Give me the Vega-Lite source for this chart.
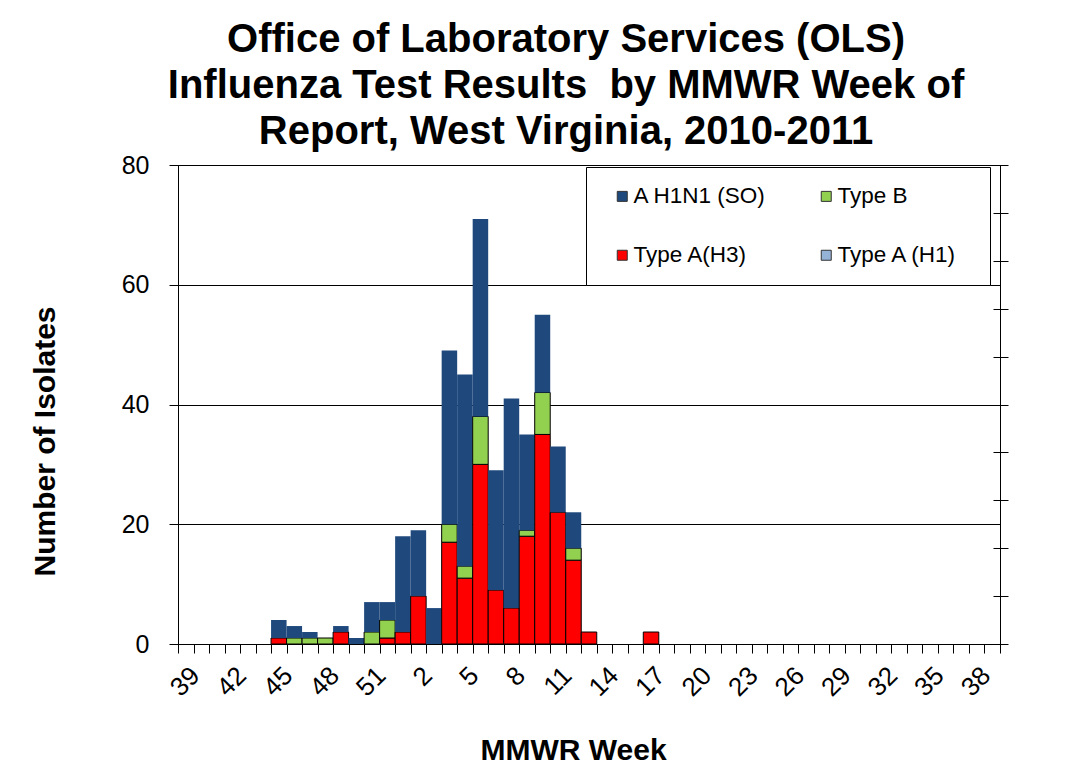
{
  "$schema": "https://vega.github.io/schema/vega-lite/v6.json",
  "width": 822,
  "height": 479,
  "autosize": {"type": "none"},
  "padding": {"left": 178, "top": 165, "right": 78, "bottom": 138},
  "background": "white",
  "config": {
    "view": {"stroke": "black", "strokeWidth": 1},
    "font": "Liberation Sans",
    "axis": {"labelColor": "black", "titleColor": "black", "tickColor": "black", "domainColor": "black", "labelFont": "Liberation Sans", "titleFont": "Liberation Sans"}
  },
  "title": {
    "text": ["Office of Laboratory Services (OLS)", "Influenza Test Results \u00a0by MMWR Week of", "Report, West Virginia, 2010-2011"],
    "font": "Liberation Sans",
    "fontSize": 40,
    "fontWeight": "bold",
    "color": "black",
    "anchor": "middle",
    "frame": "group",
    "dx": -23,
    "lineHeight": 46,
    "offset": 1
  },
  "data": {
    "values": [
      {"week": "2010-45", "type": "Type A(H3)", "n": 1},
      {"week": "2010-45", "type": "A H1N1 (SO)", "n": 3},
      {"week": "2010-46", "type": "Type B", "n": 1},
      {"week": "2010-46", "type": "A H1N1 (SO)", "n": 2},
      {"week": "2010-47", "type": "Type B", "n": 1},
      {"week": "2010-47", "type": "A H1N1 (SO)", "n": 1},
      {"week": "2010-48", "type": "Type B", "n": 1},
      {"week": "2010-49", "type": "Type A(H3)", "n": 2},
      {"week": "2010-49", "type": "A H1N1 (SO)", "n": 1},
      {"week": "2010-50", "type": "A H1N1 (SO)", "n": 1},
      {"week": "2010-51", "type": "Type B", "n": 2},
      {"week": "2010-51", "type": "A H1N1 (SO)", "n": 5},
      {"week": "2010-52", "type": "Type A(H3)", "n": 1},
      {"week": "2010-52", "type": "Type B", "n": 3},
      {"week": "2010-52", "type": "A H1N1 (SO)", "n": 3},
      {"week": "2011-01", "type": "Type A(H3)", "n": 2},
      {"week": "2011-01", "type": "A H1N1 (SO)", "n": 16},
      {"week": "2011-02", "type": "Type A(H3)", "n": 8},
      {"week": "2011-02", "type": "A H1N1 (SO)", "n": 11},
      {"week": "2011-03", "type": "A H1N1 (SO)", "n": 6},
      {"week": "2011-04", "type": "Type A(H3)", "n": 17},
      {"week": "2011-04", "type": "Type B", "n": 3},
      {"week": "2011-04", "type": "A H1N1 (SO)", "n": 29},
      {"week": "2011-05", "type": "Type A(H3)", "n": 11},
      {"week": "2011-05", "type": "Type B", "n": 2},
      {"week": "2011-05", "type": "A H1N1 (SO)", "n": 32},
      {"week": "2011-06", "type": "Type A(H3)", "n": 30},
      {"week": "2011-06", "type": "Type B", "n": 8},
      {"week": "2011-06", "type": "A H1N1 (SO)", "n": 33},
      {"week": "2011-07", "type": "Type A(H3)", "n": 9},
      {"week": "2011-07", "type": "A H1N1 (SO)", "n": 20},
      {"week": "2011-08", "type": "Type A(H3)", "n": 6},
      {"week": "2011-08", "type": "A H1N1 (SO)", "n": 35},
      {"week": "2011-09", "type": "Type A(H3)", "n": 18},
      {"week": "2011-09", "type": "Type B", "n": 1},
      {"week": "2011-09", "type": "A H1N1 (SO)", "n": 16},
      {"week": "2011-10", "type": "Type A(H3)", "n": 35},
      {"week": "2011-10", "type": "Type B", "n": 7},
      {"week": "2011-10", "type": "A H1N1 (SO)", "n": 13},
      {"week": "2011-11", "type": "Type A(H3)", "n": 22},
      {"week": "2011-11", "type": "A H1N1 (SO)", "n": 11},
      {"week": "2011-12", "type": "Type A(H3)", "n": 14},
      {"week": "2011-12", "type": "Type B", "n": 2},
      {"week": "2011-12", "type": "A H1N1 (SO)", "n": 6},
      {"week": "2011-13", "type": "Type A(H3)", "n": 2},
      {"week": "2011-17", "type": "Type A(H3)", "n": 2}
    ]
  },
  "transform": [
    {"calculate": "datum.type === 'Type A(H3)' ? 0 : (datum.type === 'Type B' ? 1 : 2)", "as": "stackOrder"}
  ],
  "encoding": {
    "x": {
      "field": "week",
      "type": "ordinal",
      "scale": {
        "domain": ["2010-39","2010-40","2010-41","2010-42","2010-43","2010-44","2010-45","2010-46","2010-47","2010-48","2010-49","2010-50","2010-51","2010-52","2011-01","2011-02","2011-03","2011-04","2011-05","2011-06","2011-07","2011-08","2011-09","2011-10","2011-11","2011-12","2011-13","2011-14","2011-15","2011-16","2011-17","2011-18","2011-19","2011-20","2011-21","2011-22","2011-23","2011-24","2011-25","2011-26","2011-27","2011-28","2011-29","2011-30","2011-31","2011-32","2011-33","2011-34","2011-35","2011-36","2011-37","2011-38","2011-39"],
        "paddingInner": 0,
        "paddingOuter": 0
      },
      "axis": {
        "title": "MMWR Week",
        "titleFontSize": 30,
        "titleFontWeight": "bold",
        "titleX": 395,
        "titleY": 115,
        "titleBaseline": "alphabetic",
        "titleAlign": "center",
        "tickBand": "extent",
        "tickSize": 9,
        "labelAngle": -45,
        "labelFontSize": 26,
        "labelPadding": 9,
        "labelOverlap": false,
        "labelExpr": "isString(datum.value) ? ((slice(datum.value,0,4)=='2010' ? (toNumber(slice(datum.value,5))%3==0) : (toNumber(slice(datum.value,5))%3==2)) ? '' + toNumber(slice(datum.value,5)) : '') : ''",
        "grid": false
      }
    }
  },
  "layer": [
    {
      "mark": {"type": "bar", "strokeWidth": 1},
      "encoding": {
        "y": {
          "field": "n",
          "type": "quantitative",
          "stack": "zero",
          "scale": {"domain": [0, 80], "nice": false},
          "axis": {
            "title": "Number of Isolates",
            "titleFontSize": 30,
            "titleFontWeight": "bold",
            "titleAngle": -90,
            "titleX": -133,
            "titleY": 276,
            "titleAlign": "center",
            "titleBaseline": "middle",
            "values": [0, 20, 40, 60, 80],
            "tickSize": 9,
            "labelFontSize": 25,
            "labelPadding": 20,
            "grid": true,
            "gridColor": "black",
            "gridOpacity": 1,
            "gridWidth": 1
          }
        },
        "color": {
          "field": "type",
          "type": "nominal",
          "scale": {
            "domain": ["A H1N1 (SO)", "Type B", "Type A(H3)", "Type A (H1)"],
            "range": ["#1F497D", "#92D050", "#FF0000", "#95B3D7"]
          },
          "legend": {
            "title": "\u00a0",
            "titleOrient": "right",
            "titleFontSize": 10,
            "titlePadding": 14,
            "orient": "none",
            "legendX": 408,
            "legendY": 2,
            "columns": 2,
            "direction": "horizontal",
            "gridAlign": "all",
            "padding": 18,
            "symbolOffset": 7,
            "columnPadding": 41,
            "rowPadding": 36,
            "fillColor": "white",
            "strokeColor": "black",
            "symbolType": "square",
            "symbolSize": 100,
            "symbolStrokeColor": "#333333",
            "symbolStrokeWidth": 1,
            "labelFontSize": 22.5,
            "labelFont": "Liberation Sans",
            "labelColor": "black",
            "labelOffset": 0,
            "labelLimit": 300
          }
        },
        "order": {"field": "stackOrder", "type": "quantitative"},
        "stroke": {
          "condition": {"test": "datum.type === 'A H1N1 (SO)'", "value": "transparent"},
          "value": "black"
        }
      }
    },
    {
      "mark": {"type": "bar", "opacity": 0},
      "encoding": {
        "y": {
          "field": "n",
          "type": "quantitative",
          "stack": "zero",
          "scale": {"domain": [0, 80], "nice": false},
          "axis": {
            "orient": "right",
            "title": null,
            "values": [0, 8, 16, 24, 32, 40, 48, 56, 64, 72, 80],
            "labels": false,
            "domain": false,
            "grid": false,
            "tickSize": 15,
            "offset": -7
          }
        }
      }
    }
  ],
  "resolve": {"scale": {"y": "independent"}}
}
